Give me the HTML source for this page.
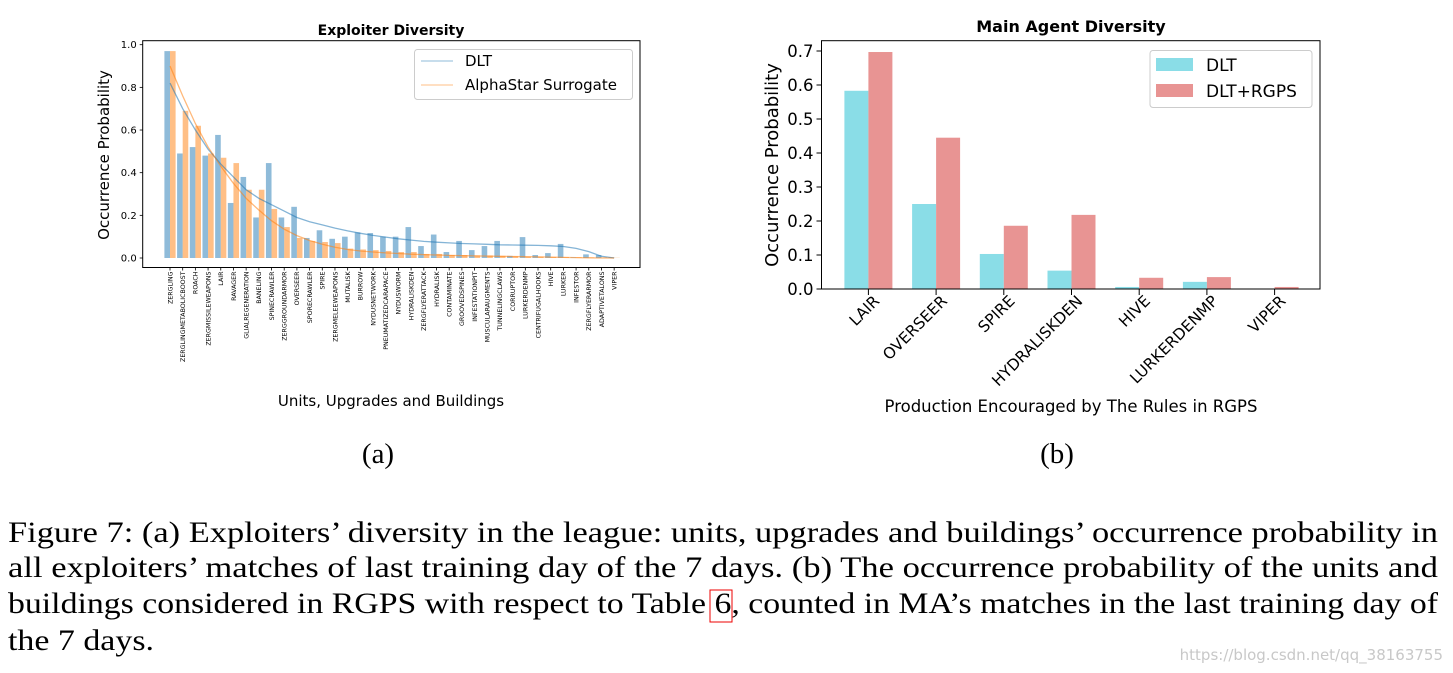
<!DOCTYPE html>
<html><head><meta charset="utf-8">
<style>
html,body{margin:0;padding:0;background:#fff;}
svg{display:block;}
text{font-family:"DejaVu Sans","Liberation Sans",sans-serif;}
.serif{font-family:"Liberation Serif",serif;}
</style></head>
<body>
<svg id="fig" width="1453" height="673" viewBox="0 0 1453 673" xmlns="http://www.w3.org/2000/svg">
<g id="left"></g>
<g id="right"></g>
<text x="378" y="463" font-size="29" text-anchor="middle" class="serif">(a)</text>
<text x="1057" y="463" font-size="29" text-anchor="middle" class="serif">(b)</text>
<g font-size="30" class="serif">
<text x="8" y="542" class="serif" textLength="1430" lengthAdjust="spacingAndGlyphs">Figure 7:  (a) Exploiters’ diversity in the league: units, upgrades and buildings’ occurrence probability in</text>
<text x="8" y="577" class="serif" textLength="1430" lengthAdjust="spacingAndGlyphs">all exploiters’ matches of last training day of the 7 days. (b) The occurrence probability of the units and</text>
<text x="8" y="613" class="serif" textLength="1430" lengthAdjust="spacingAndGlyphs">buildings considered in RGPS with respect to Table 6, counted in MA’s matches in the last training day of</text>
<text x="8" y="650" class="serif" textLength="146" lengthAdjust="spacingAndGlyphs">the 7 days.</text>
</g>
<rect x="710" y="590" width="22" height="32" fill="none" stroke="#e00" stroke-width="1"/>
<text x="1443" y="660" font-size="15" fill="#c8c8c8" text-anchor="end" font-family="Liberation Sans, sans-serif">https://blog.csdn.net/qq_38163755</text>
</svg>
<script>
// ---- Left chart data ----
const leftCats = ["ZERGLING","ZERGLINGMETABOLICBOOST","ROACH","ZERGMISSILEWEAPONS","LAIR","RAVAGER","GLIALREGENERATION","BANELING","SPINECRAWLER","ZERGGROUNDARMOR","OVERSEER","SPORECRAWLER","SPIRE","ZERGMELEEWEAPONS","MUTALISK","BURROW","NYDUSNETWORK","PNEUMATIZEDCARAPACE","NYDUSWORM","HYDRALISKDEN","ZERGFLYERATTACK","HYDRALISK","CONTAMINATE","GROOVEDSPINES","INFESTATIONPIT","MUSCULARAUGMENTS","TUNNELINGCLAWS","CORRUPTOR","LURKERDENMP","CENTRIFUGALHOOKS","HIVE","LURKER","INFESTOR","ZERGFLYERARMOR","ADAPTIVETALONS","VIPER"];
const dltVals = [0.97,0.49,0.52,0.48,0.577,0.258,0.38,0.19,0.445,0.19,0.24,0.094,0.13,0.09,0.10,0.12,0.117,0.10,0.10,0.145,0.056,0.11,0.028,0.08,0.037,0.056,0.08,0.01,0.098,0.014,0.023,0.066,0.003,0.017,0.014,0.003];
const asVals = [0.97,0.69,0.62,0.49,0.47,0.445,0.32,0.32,0.23,0.145,0.094,0.08,0.075,0.07,0.044,0.04,0.037,0.033,0.028,0.028,0.019,0.019,0.014,0.014,0.012,0.012,0.01,0.008,0.006,0.006,0.005,0.004,0.003,0.002,0.002,0.001];
const dltFit = [0.82,0.70,0.60,0.51,0.44,0.38,0.32,0.28,0.25,0.22,0.19,0.17,0.155,0.14,0.127,0.116,0.106,0.098,0.09,0.084,0.078,0.074,0.071,0.068,0.066,0.064,0.062,0.061,0.060,0.059,0.057,0.054,0.045,0.03,0.008,0.0];
const asFit = [0.90,0.76,0.63,0.52,0.43,0.35,0.28,0.225,0.175,0.135,0.105,0.082,0.064,0.05,0.04,0.033,0.028,0.024,0.021,0.018,0.016,0.014,0.012,0.011,0.01,0.009,0.008,0.007,0.006,0.005,0.004,0.003,0.002,0.001,0.0,0.0];
const leftTicks = [0,0.2,0.4,0.6,0.8,1.0];
const leftTickLabels = ["0.0","0.2","0.4","0.6","0.8","1.0"];
// ---- Right chart data ----
const rightCats = ["LAIR","OVERSEER","SPIRE","HYDRALISKDEN","HIVE","LURKERDENMP","VIPER"];
const maDlt = [0.583,0.25,0.103,0.054,0.006,0.021,0.0];
const maRgps = [0.697,0.445,0.186,0.218,0.033,0.035,0.006];
const rightTicks = [0,0.1,0.2,0.3,0.4,0.5,0.6,0.7];
const rightTickLabels = ["0.0","0.1","0.2","0.3","0.4","0.5","0.6","0.7"];

const NS="http://www.w3.org/2000/svg";
function mk(parent,tag,attrs,txt){const e=document.createElementNS(NS,tag);for(const k in attrs)e.setAttribute(k,attrs[k]);if(txt!==undefined)e.textContent=txt;parent.appendChild(e);return e;}

// LEFT
(function(){
const g=document.getElementById('left');
const L=142.7,R=640,T=40.7,B=267.5;
const x0=170,dx=12.69;
const xs=i=>x0+i*dx;
const ys=v=>258-v*213.3;
const bw=5.6;
leftCats.forEach((c,i)=>{
  const b=mk(g,'rect',{x:xs(i)-bw,y:ys(dltVals[i]),width:bw,height:258-ys(dltVals[i]),fill:'#1f77b4','fill-opacity':0.5});
  
  
  const o=mk(g,'rect',{x:xs(i),y:ys(asVals[i]),width:bw,height:258-ys(asVals[i]),fill:'#ff7f0e','fill-opacity':0.5});
  
  
  mk(g,'line',{x1:xs(i),x2:xs(i),y1:B,y2:B+3,stroke:'#000','stroke-width':0.8});
  const t=mk(g,'text',{x:0,y:0,'font-size':6.3,'text-anchor':'end',transform:`translate(${xs(i)+2.3},${B+4}) rotate(-90)`},c);
  
  
});
function curve(arr,col,name){
  let d='';arr.forEach((v,i)=>{d+=(i?'L':'M')+xs(i).toFixed(1)+','+ys(v).toFixed(1);});
  const p=mk(g,'path',{d:d,fill:'none',stroke:col,'stroke-opacity':0.55,'stroke-width':1.3});
  
  
}
curve(dltFit,'#1f77b4','dlt-trend-line');
curve(asFit,'#ff7f0e','alphastar-trend-line');
mk(g,'rect',{x:L,y:T,width:R-L,height:B-T,fill:'none',stroke:'#000','stroke-width':1});
leftTicks.forEach((v,i)=>{
  mk(g,'line',{x1:L-3,x2:L,y1:ys(v),y2:ys(v),stroke:'#000','stroke-width':0.8});
  const t=mk(g,'text',{x:L-6,y:ys(v)+3.5,'font-size':10,'text-anchor':'end'},leftTickLabels[i]);
  
  
});
const ttl=mk(g,'text',{x:391,y:35,'font-size':14,'font-weight':'bold','text-anchor':'middle'},'Exploiter Diversity');


const yl=mk(g,'text',{x:0,y:0,'font-size':15,'text-anchor':'middle',transform:'translate(109,155) rotate(-90)'},'Occurrence Probability');


const xl=mk(g,'text',{x:391,y:406,'font-size':15,'text-anchor':'middle'},'Units, Upgrades and Buildings');


const lg=mk(g,'g',{});


mk(lg,'rect',{x:414.5,y:49.5,width:218,height:50,rx:3,fill:'#fff','fill-opacity':0.8,stroke:'#ccc'});
mk(lg,'line',{x1:421,x2:453,y1:61,y2:61,stroke:'#1f77b4','stroke-opacity':0.5,'stroke-width':1});
mk(lg,'line',{x1:421,x2:453,y1:85,y2:85,stroke:'#ff7f0e','stroke-opacity':0.5,'stroke-width':1});
mk(lg,'text',{x:465,y:66,'font-size':15},'DLT');
mk(lg,'text',{x:465,y:90,'font-size':15},'AlphaStar Surrogate');
})();

// RIGHT
(function(){
const g=document.getElementById('right');
const L=821.5,R=1320,T=40.7,B=289;
const x0=868.4,dx=67.7;
const xs=i=>x0+i*dx;
const ys=v=>B-v*340;
const bw=24;
rightCats.forEach((c,i)=>{
  const b=mk(g,'rect',{x:xs(i)-bw,y:ys(maDlt[i]),width:bw,height:B-ys(maDlt[i]),fill:'#8adde7'});
  
  
  const o=mk(g,'rect',{x:xs(i),y:ys(maRgps[i]),width:bw,height:B-ys(maRgps[i]),fill:'#e89493'});
  
  
  mk(g,'line',{x1:xs(i),x2:xs(i),y1:B,y2:B+6,stroke:'#000','stroke-width':1});
  const t=mk(g,'text',{x:0,y:0,'font-size':15.5,'text-anchor':'end',transform:`translate(${xs(i)+12},${B+13}) rotate(-45)`},c);
  
  
});
mk(g,'rect',{x:L,y:T,width:R-L,height:B-T,fill:'none',stroke:'#000','stroke-width':1});
rightTicks.forEach((v,i)=>{
  mk(g,'line',{x1:L-5,x2:L,y1:ys(v),y2:ys(v),stroke:'#000','stroke-width':1});
  const t=mk(g,'text',{x:L-8,y:ys(v)+6,'font-size':16.5,'text-anchor':'end'},rightTickLabels[i]);
  
  
});
const ttl=mk(g,'text',{x:1071,y:32,'font-size':16,'font-weight':'bold','text-anchor':'middle'},'Main Agent Diversity');


const yl=mk(g,'text',{x:0,y:0,'font-size':18,'text-anchor':'middle',transform:'translate(778,165) rotate(-90)'},'Occurrence Probability');


const xl=mk(g,'text',{x:1071,y:412,'font-size':16.5,'text-anchor':'middle'},'Production Encouraged by The Rules in RGPS');


const lg=mk(g,'g',{});


mk(lg,'rect',{x:1150,y:50.5,width:162,height:57,rx:3,fill:'#fff','fill-opacity':0.8,stroke:'#ccc'});
mk(lg,'rect',{x:1156,y:58,width:37,height:13,fill:'#8adde7'});
mk(lg,'rect',{x:1156,y:84,width:37,height:13,fill:'#e89493'});
mk(lg,'text',{x:1206,y:71,'font-size':17},'DLT');
mk(lg,'text',{x:1206,y:97,'font-size':17},'DLT+RGPS');
})();
</script>
</body></html>
